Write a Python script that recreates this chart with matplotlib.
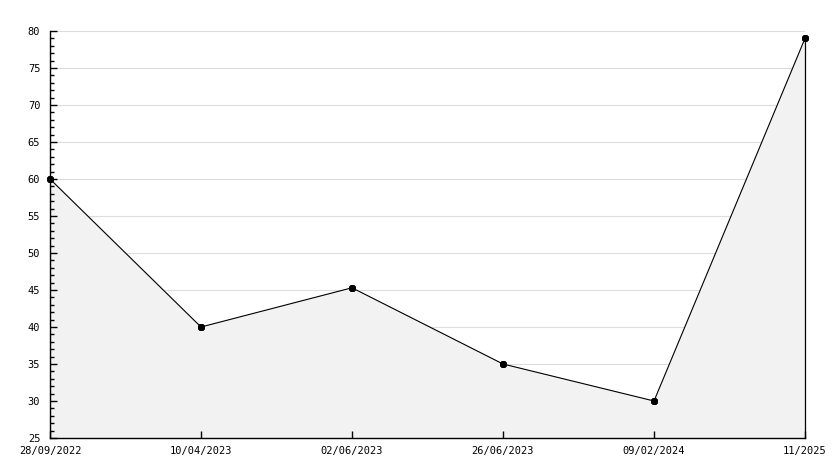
import matplotlib
matplotlib.use("Agg")
import matplotlib.pyplot as plt
from matplotlib.ticker import MultipleLocator
import numpy as np

# Data
dates = ["28/09/2022", "10/04/2023", "02/06/2023", "26/06/2023", "09/02/2024", "11/2025"]
values = [60, 40, 45.3, 35, 30, 79]

fig = plt.figure(figsize=(8.34, 4.68), dpi=100)
ax = fig.add_axes([50 / 834, 30 / 468, 755 / 834, 407 / 468])

x = np.arange(len(dates))
ymin, ymax = 25, 80

# horizontal grid behind the filled area
for g in range(ymin + 5, ymax + 1, 5):
    ax.axhline(g, color="#dddddd", lw=0.8, zorder=0)

# Filled area + line
ax.fill_between(x, values, ymin, color="#f2f2f2", zorder=1)
ax.plot(x, values, color="black", lw=0.8, zorder=3, clip_on=False)
ax.plot(x, values, linestyle="none", marker=(8, 2, 0), ms=5, mew=1.6,
        color="black", zorder=4, clip_on=False)
ax.plot([x[-1], x[-1]], [ymin, values[-1]], color="black", lw=0.9, zorder=3, clip_on=False)

ax.set_xlim(x[0], x[-1])
ax.set_ylim(ymin, ymax)

ax.yaxis.set_major_locator(MultipleLocator(5))
ax.yaxis.set_minor_locator(MultipleLocator(1))

ax.set_xticks(x)
ax.set_xticklabels(dates)

for s in ["top", "right"]:
    ax.spines[s].set_visible(False)
for s in ["left", "bottom"]:
    ax.spines[s].set_linewidth(1.0)
    ax.spines[s].set_zorder(5)

ax.tick_params(axis="y", which="major", direction="in", length=5, width=1,
               labelsize=7.5, pad=7)
ax.tick_params(axis="y", which="minor", direction="in", length=3, width=1)
ax.tick_params(axis="x", which="major", direction="in", length=5, width=1,
               labelsize=7.5, pad=6)
for lbl in ax.get_xticklabels() + ax.get_yticklabels():
    lbl.set_family("DejaVu Sans Mono")

plt.savefig("out.png", dpi=100)
